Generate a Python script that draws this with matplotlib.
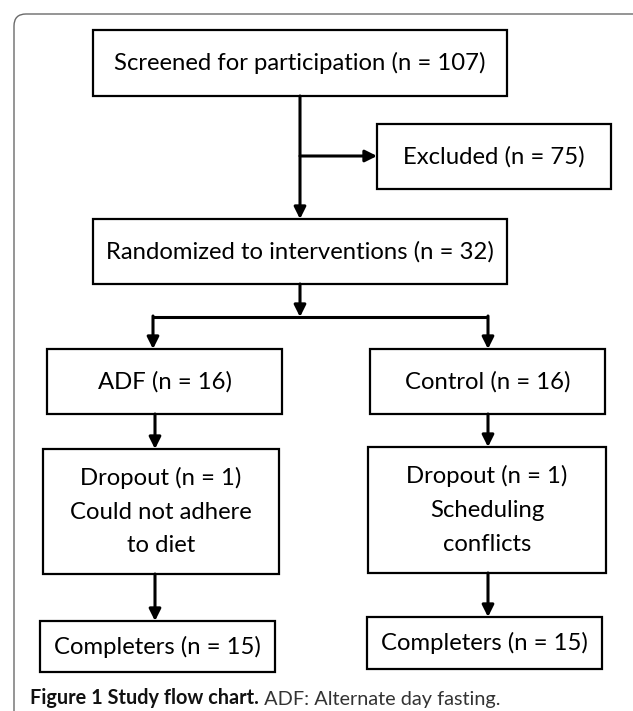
import matplotlib
matplotlib.use("Agg")
import matplotlib.pyplot as plt
from matplotlib.patches import Rectangle, FancyBboxPatch

# flow chart content
stage_names = ["Screened for participation", "Excluded", "Randomized to interventions",
               "ADF", "Control", "Dropout", "Dropout", "Completers", "Completers"]
stage_counts = [107, 75, 32, 16, 16, 1, 1, 15, 15]
dropout_reasons = ["Could not adhere\nto diet", "Scheduling\nconflicts"]
caption_bold = "Figure 1 Study flow chart."
caption_text = " ADF: Alternate day fasting."

labels = ["%s (n = %d)" % (n, c) for n, c in zip(stage_names, stage_counts)]
labels[5] += "\n" + dropout_reasons[0]
labels[6] += "\n" + dropout_reasons[1]

# box layout in pixels (x0, y0, x1, y1)
boxes = [(93, 30, 507, 96), (377, 124, 611, 189), (93, 219, 507, 284),
         (47, 349, 282, 414), (370, 349, 605, 414),
         (43, 449, 279, 574), (368, 447, 606, 573),
         (40, 621, 275, 672), (367, 617, 602, 669)]

W, H = 633, 711
fig = plt.figure(figsize=(W / 100, H / 100), dpi=100)
ax = fig.add_axes([0, 0, 1, 1])
ax.set_xlim(0, W)
ax.set_ylim(H, 0)
ax.axis("off")

FONT = ["Lato", "DejaVu Sans"]

frame = FancyBboxPatch((14, 14), 650, 715, boxstyle="round,pad=0,rounding_size=12",
                       fc="white", ec="#6a6a6a", lw=1.0)
ax.add_patch(frame)

for (x0, y0, x1, y1), lab in zip(boxes, labels):
    ax.add_patch(Rectangle((x0, y0), x1 - x0, y1 - y0, fc="white", ec="black", lw=1.6))
    ax.text((x0 + x1) / 2, (y0 + y1) / 2, lab, ha="center", va="center",
            fontsize=17.2, family=FONT, linespacing=1.75)


def arrow(x0, y0, x1, y1):
    ax.annotate("", xy=(x1, y1), xytext=(x0, y0),
                arrowprops=dict(arrowstyle="-|>,head_length=0.7,head_width=0.35",
                                color="black", lw=2.2, shrinkA=0, shrinkB=0))


def line(xs, ys):
    ax.plot(xs, ys, color="black", lw=2.2, solid_capstyle="butt")


arrow(300, 96, 300, 219)
arrow(300, 156, 377, 156)
arrow(300, 284, 300, 317)
line([153, 488], [317, 317])
arrow(153, 316, 153, 349)
arrow(488, 316, 488, 349)
arrow(155, 414, 155, 449)
arrow(488, 414, 488, 447)
arrow(155, 574, 155, 621)
arrow(488, 573, 488, 617)

t1 = ax.text(30, 704, caption_bold, ha="left", va="baseline", fontsize=14.3,
             fontweight="bold", family=FONT, color="#111111")
ax.annotate(caption_text, xy=(1, 0), xycoords=t1, ha="left", va="bottom",
            fontsize=14.3, family=FONT, color="#333333")

fig.savefig("out.png", dpi=100)
